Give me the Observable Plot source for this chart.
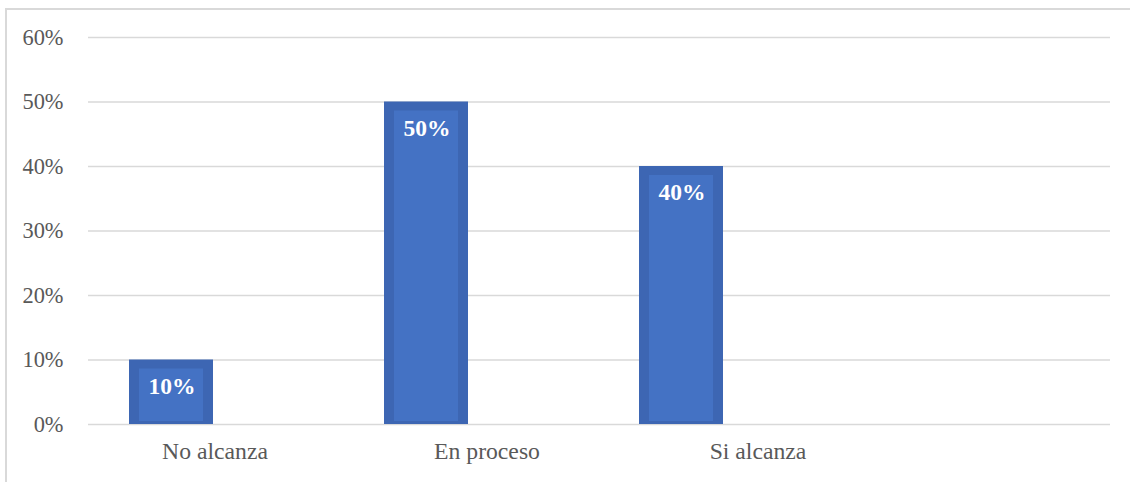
<!DOCTYPE html>
<html>
<head>
<meta charset="utf-8">
<script src="https://cdn.jsdelivr.net/npm/d3@7"></script>
<script src="https://cdn.jsdelivr.net/npm/@observablehq/plot@0.6"></script>
<style>
  html, body { margin: 0; padding: 0; background: #fff; }
  #wrap { position: relative; width: 1130px; height: 482px; overflow: hidden; }
  #border { position: absolute; left: 5px; top: 8px; width: 1200px; height: 600px;
            border-top: 2px solid #d9d9d9; border-left: 2px solid #d9d9d9; }
  #chart { position: absolute; left: 0; top: 0; }
  #chart svg text { font-family: 'Liberation Serif', 'Times New Roman', serif !important; }
</style>
</head>
<body>
<div id="wrap"><div id="border"></div><div id="chart"></div></div>
<script>
const categories = ["No alcanza", "En proceso", "Si alcanza"];
const values = [0.10, 0.50, 0.40];
const dataLabels = ["10%", "50%", "40%"];
const yTicks = [0, 0.1, 0.2, 0.3, 0.4, 0.5, 0.6];
const domainX = [...categories, ""];

const data = categories.map((c, i) => ({category: c, value: values[i], label: dataLabels[i]}));
const labelShift = [-2, 15, 31];

const font = "'Liberation Serif', 'Times New Roman', serif";

const chart = Plot.plot({
  width: 1130,
  height: 482,
  marginLeft: 88,
  marginRight: 20,
  marginTop: 37,
  marginBottom: 58,
  style: {background: "transparent", fontFamily: font},
  x: {domain: domainX, padding: 0, axis: null},
  y: {domain: [0, 0.6], axis: null},
  marks: [
    Plot.ruleY(yTicks, {stroke: "#d9d9d9", strokeWidth: 1.5}),
    Plot.axisY(yTicks, {tickSize: 0, tickPadding: 25, tickFormat: d3.format(".0%"),
      fontSize: 22.4, fill: "#595959", label: null}),
    Plot.barY(data, {x: "category", y: "value", fill: "#3d66b3", insetLeft: 40, insetRight: 131}),
    Plot.barY(data, {x: "category", y1: 0, y2: "value", fill: "#4472c4",
      insetLeft: 50, insetRight: 141, insetTop: 9, insetBottom: 3}),
    Plot.text(data, {x: "category", y: "value", text: "label", dx: -45, dy: 26,
      fill: "white", fontWeight: "bold", fontSize: 23.5}),
    ...categories.map((c, i) => Plot.text([c], {x: d => d, y: 0, text: d => d,
      dy: 27, dx: labelShift[i], fill: "#595959", fontSize: 23.7}))
  ]
});
document.getElementById("chart").appendChild(chart);
</script>
</body>
</html>
